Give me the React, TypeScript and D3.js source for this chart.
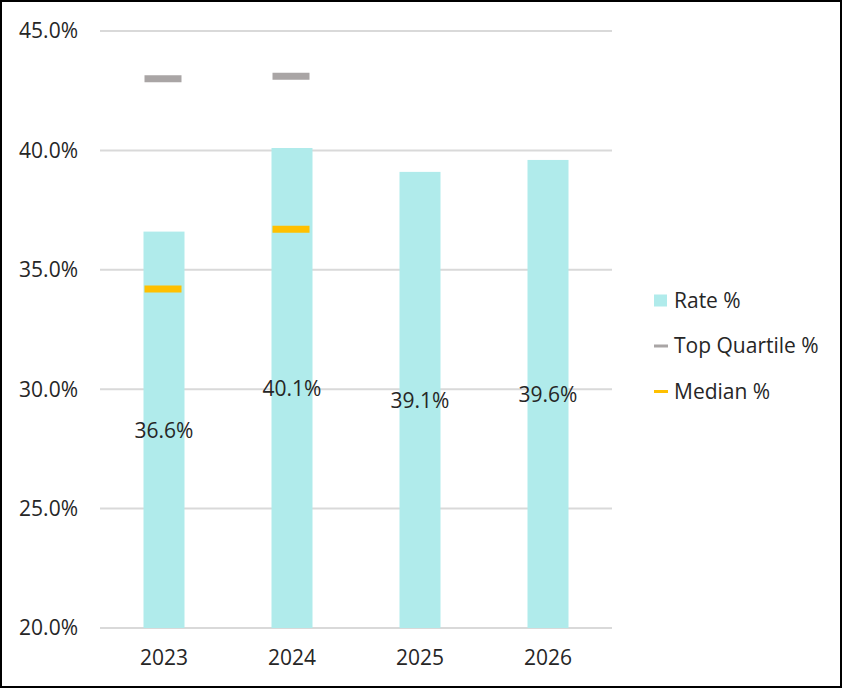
import React from "react";
import * as d3 from "d3";

const years = ["2023", "2024", "2025", "2026"];
const rate = [36.6, 40.1, 39.1, 39.6];
const topQuartile: (number | null)[] = [43.0, 43.1, null, null];
const median: (number | null)[] = [34.2, 36.7, null, null];
const yTicks = [20, 25, 30, 35, 40, 45];
const legendItems = ["Rate %", "Top Quartile %", "Median %"];

const W = 843;
const H = 689;
const FONT = "'Open Sans', 'Segoe UI', sans-serif";
const FS = 21;
const BAR = "#B0EBEB";
const GREY = "#A9A5A5";
const GOLD = "#FFC000";
const TEXT = "#262626";

export default function App() {
  const x = d3.scaleBand().domain(years).range([100, 612]).paddingInner(0).paddingOuter(0);
  const y = d3.scaleLinear().domain([20, 45]).range([628, 31]);
  const barW = 41;
  const markW = 37;
  const fmt = (v: number) => v.toFixed(1) + "%";

  return (
    <svg
      width={W}
      height={H}
      style={{ position: "absolute", left: 0, top: 0, background: "#fff" }}
      fontFamily={FONT}
    >
      <rect x={1} y={1} width={W - 3} height={H - 3} fill="#fff" stroke="#000" strokeWidth={2} />
      {yTicks.map((t) => (
        <g key={t}>
          <line x1={100} x2={612} y1={y(t)} y2={y(t)} stroke="#D9D9D9" strokeWidth={2} />
          <text x={78} y={y(t)} dy="0.35em" textAnchor="end" fontSize={FS} fill={TEXT}>
            {fmt(t)}
          </text>
        </g>
      ))}
      {years.map((yr, i) => {
        const cx = x(yr)! + x.bandwidth() / 2;
        return (
          <g key={yr}>
            <rect x={cx - barW / 2} y={y(rate[i])} width={barW} height={y(20) - y(rate[i])} fill={BAR} />
            {topQuartile[i] != null && (
              <line
                x1={cx - markW / 2 - 1}
                x2={cx + markW / 2 - 1}
                y1={y(topQuartile[i]!)}
                y2={y(topQuartile[i]!)}
                stroke={GREY}
                strokeWidth={7}
              />
            )}
            {median[i] != null && (
              <line
                x1={cx - markW / 2 - 1}
                x2={cx + markW / 2 - 1}
                y1={y(median[i]!)}
                y2={y(median[i]!)}
                stroke={GOLD}
                strokeWidth={7}
              />
            )}
            <text
              x={cx}
              y={(y(rate[i]) + y(20)) / 2 + 1}
              dy="0.35em"
              textAnchor="middle"
              fontSize={FS}
              fill={TEXT}
            >
              {fmt(rate[i])}
            </text>
            <text x={cx} y={658} dy="0.35em" textAnchor="middle" fontSize={FS} fill={TEXT}>
              {yr}
            </text>
          </g>
        );
      })}
      {legendItems.map((name, i) => {
        const ly = 300.5 + i * 45.5;
        return (
          <g key={name}>
            {i === 0 ? (
              <rect x={654} y={ly - 6} width={13} height={12} fill={BAR} />
            ) : (
              <line x1={654} x2={668} y1={ly} y2={ly} stroke={i === 1 ? GREY : GOLD} strokeWidth={3} />
            )}
            <text x={674} y={ly} dy="0.35em" fontSize={FS} fill={TEXT}>
              {name}
            </text>
          </g>
        );
      })}
    </svg>
  );
}
